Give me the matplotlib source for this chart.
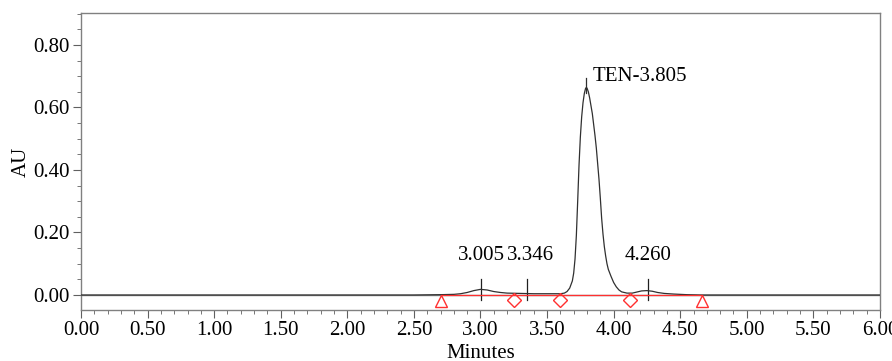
import matplotlib.pyplot as plt
from matplotlib.ticker import MultipleLocator, FormatStrFormatter

plt.rcParams['font.family'] = ['Liberation Serif', 'DejaVu Serif']

# chromatogram trace (minutes, AU)
time_min = [0.00, 2.50, 2.70, 2.80, 2.85, 2.90, 2.95, 3.00, 3.05, 3.10, 3.15, 3.20,
            3.30, 3.40, 3.50, 3.55, 3.60, 3.63, 3.65, 3.67, 3.69, 3.70, 3.71, 3.72,
            3.73, 3.74, 3.75, 3.76, 3.77, 3.78, 3.79, 3.80, 3.81, 3.82, 3.83, 3.84,
            3.86, 3.87, 3.88, 3.89, 3.90, 3.91, 3.92, 3.93, 3.94, 3.95, 3.96, 3.98,
            4.00, 4.02, 4.04, 4.06, 4.10, 4.14, 4.18, 4.21, 4.25, 4.29, 4.33, 4.38,
            4.45, 4.55, 4.65, 6.00]
signal_au = [0.000, 0.000, 0.001, 0.002, 0.004, 0.008, 0.014, 0.018, 0.016, 0.011, 0.008, 0.006,
             0.005, 0.004, 0.004, 0.004, 0.004, 0.006, 0.011, 0.022, 0.045, 0.070, 0.115, 0.190,
             0.300, 0.415, 0.505, 0.570, 0.615, 0.645, 0.662, 0.662, 0.650, 0.630, 0.605, 0.580,
             0.510, 0.470, 0.420, 0.370, 0.310, 0.245, 0.195, 0.155, 0.125, 0.100, 0.082, 0.060,
             0.040, 0.026, 0.016, 0.010, 0.006, 0.006, 0.010, 0.013, 0.014, 0.012, 0.008, 0.005,
             0.003, 0.001, 0.000, 0.000]

# integration baseline and event markers
baseline_start, baseline_end = 2.70, 4.66
triangle_times = [2.70, 4.66]
diamond_times = [3.25, 3.60, 4.12]

# peak apex labels
peak_times = [3.005, 3.346, 3.79, 4.255]
peak_labels = ['3.005', '3.346', 'TEN-3.805', '4.260']

fig = plt.figure(figsize=(8.92, 3.61), dpi=100)
ax = fig.add_axes([0.0908, 0.1413, 0.8957, 0.8227])

ax.axhline(0, color='#808080', lw=1.0, zorder=1)
ax.plot(time_min, signal_au, color='#303030', lw=0.9, zorder=3)
ax.plot([baseline_start, baseline_end], [0.001, 0.001], color='#ff3030', lw=0.9, zorder=4)
ax.plot(triangle_times, [-0.019] * len(triangle_times), ls='none', marker='^', ms=9,
        mfc='none', mec='#ff3030', mew=1.0, zorder=5)
ax.plot(diamond_times, [-0.017] * len(diamond_times), ls='none', marker='D', ms=7,
        mfc='none', mec='#ff3030', mew=1.0, zorder=5)

# apex tick marks and labels
for t, lab in zip(peak_times, peak_labels):
    if lab.startswith('TEN'):
        ax.plot([t, t], [0.645, 0.695], color='#303030', lw=0.9)
        ax.text(t + 0.05, 0.70, lab, fontsize=15, ha='left', va='center')
    else:
        ax.plot([t, t], [-0.016, 0.050], color='#202020', lw=0.9)
        ax.text(t + (0.03 if lab == '3.346' else 0), 0.125, lab, fontsize=15,
                ha='center', va='center')

ax.set_xlim(0, 6)
ax.set_ylim(-0.048, 0.902)
ax.xaxis.set_major_locator(MultipleLocator(0.5))
ax.xaxis.set_minor_locator(MultipleLocator(0.1))
ax.yaxis.set_major_locator(MultipleLocator(0.2))
ax.yaxis.set_minor_locator(MultipleLocator(0.05))
ax.xaxis.set_major_formatter(FormatStrFormatter('%.2f'))
ax.yaxis.set_major_formatter(FormatStrFormatter('%.2f'))
ax.tick_params(which='major', length=6, color='#606060', labelsize=15, direction='out', pad=2)
ax.tick_params(which='minor', length=3, color='#606060', direction='out')
for s in ax.spines.values():
    s.set_color('#808080')
    s.set_linewidth(1.0)

ax.set_xlabel('Minutes', fontsize=15, va='center')
ax.xaxis.set_label_coords(0.5, -0.145)
ax.set_ylabel('AU', fontsize=15, labelpad=2)

fig.savefig('out.png', dpi=100, facecolor='white')
